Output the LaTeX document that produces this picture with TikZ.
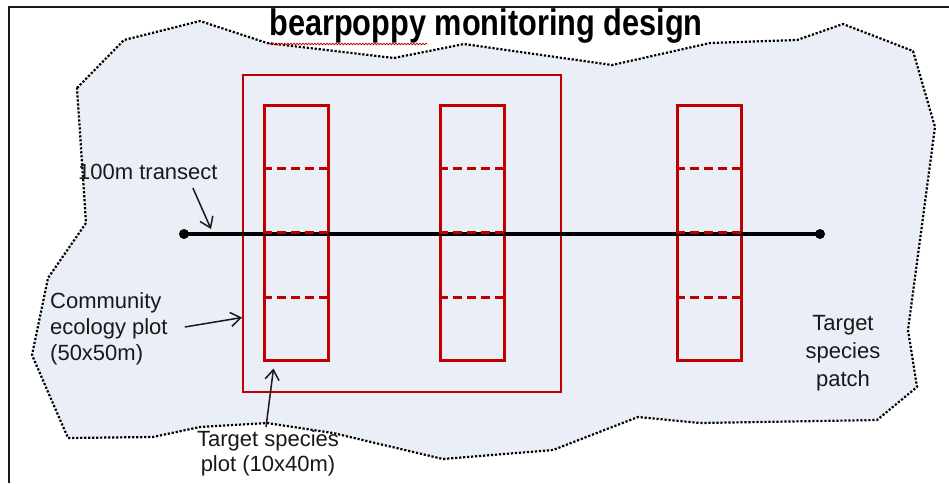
\documentclass[tikz,border=0pt]{standalone}
\usepackage{fontspec}
\setmainfont{Liberation Sans}
\newfontfamily\titlefont[FakeStretch=0.83]{Liberation Sans}
\usetikzlibrary{arrows.meta,calc,decorations.pathmorphing}
\definecolor{plotred}{RGB}{192,0,0}
\definecolor{patchblue}{RGB}{233,238,247}
\definecolor{inkgray}{RGB}{25,25,25}
\tikzset{
	plotbox/.style={draw=plotred, line width=3pt, minimum width=64pt, minimum height=255pt, inner sep=0pt},
	commbox/.style={draw=plotred, line width=2pt, minimum width=318pt, minimum height=317pt, inner sep=0pt},
	txt/.style={text=inkgray, font=\fontsize{22}{26}\selectfont, inner sep=0pt},
	annoarrow/.style={-{Straight Barb[length=10pt,width=14pt]}, line width=1.5pt, draw=inkgray},
}
\begin{document}
\begin{tikzpicture}[x=1pt, y=-1pt]
		\useasboundingbox (0,0) rectangle (949,483);
		% frame
		\draw[line width=2.4pt, inkgray] (949,7) -- (9,7) -- (9,483);
	
		% species patch
		\draw[fill=patchblue, line width=2.2pt, dash pattern=on 2.2pt off 1.8pt]
			(77,88) -- (124,40) -- (200,21) -- (267,43) -- (394,58) -- (464,44)
			-- (612,65) -- (710,43) -- (797,40) -- (843,24) -- (913,51) -- (935,127)
			-- (908,330) -- (917,387) -- (877,420) -- (700,423) -- (638,417)
			-- (553,450) -- (443,459) -- (333,433) -- (267,423) -- (200,427)
			-- (153,437) -- (68,438) -- (32,355) -- (48,278) -- (86,223) -- cycle;
	
		\node[font=\titlefont\bfseries\fontsize{37}{40}\selectfont, inner sep=0pt] (title) at (486,26) {bearpoppy monitoring design};
		\draw[plotred, line width=0.7pt, decorate, decoration={snake, amplitude=0.9pt, segment length=3pt}] (269,44) -- (427,44);
	
		% plots
		\node[commbox] (comm) at (402,233.5) {};
		\node[plotbox] (p1) at (296,232.5) {};
		\node[plotbox] (p2) at (472,232.5) {};
		\node[plotbox] (p3) at (709,232.5) {};
	
		% transect
		\coordinate (tw) at (184,234);
		\coordinate (te) at (820,234);
		\coordinate (trhit) at (211,229);
		\draw[line width=4.5pt] (tw) -- (te);
		\fill (tw) circle (5) (te) circle (5);
	
		\foreach \p in {p1,p2,p3}
			\foreach \f in {0.25,0.5,0.75}
				\draw[plotred, line width=3pt, dash pattern=on 9pt off 5pt]
					($(\p.north west)!\f!(\p.south west)$) -- ($(\p.north east)!\f!(\p.south east)$);
	
		% labels
		\node[txt, anchor=west] (trlabel) at (78,172) {100m transect};
		\node[txt, anchor=west, align=left] (commlabel) at (50,329) {Community\\ecology plot\\(50x50m)};
		\node[txt, anchor=north, align=center, font=\fontsize{22}{25}\selectfont] (tslabel) at (268,430) {Target species\\plot (10x40m)};
		\node[txt, align=center, font=\fontsize{22}{28}\selectfont] (patchlabel) at (843,353) {Target\\species\\patch};
	
		\draw[annoarrow] ([xshift=45pt, yshift=-8pt]trlabel.south) -- (trhit);
		\draw[annoarrow] ([xshift=17pt, yshift=2pt]commlabel.east) -- ([yshift=-84pt]comm.west);
		\draw[annoarrow] ([xshift=-2pt, yshift=3pt]tslabel.north) -- ([xshift=11pt, yshift=-7pt]p1.south west);
	\end{tikzpicture}
\end{document}
